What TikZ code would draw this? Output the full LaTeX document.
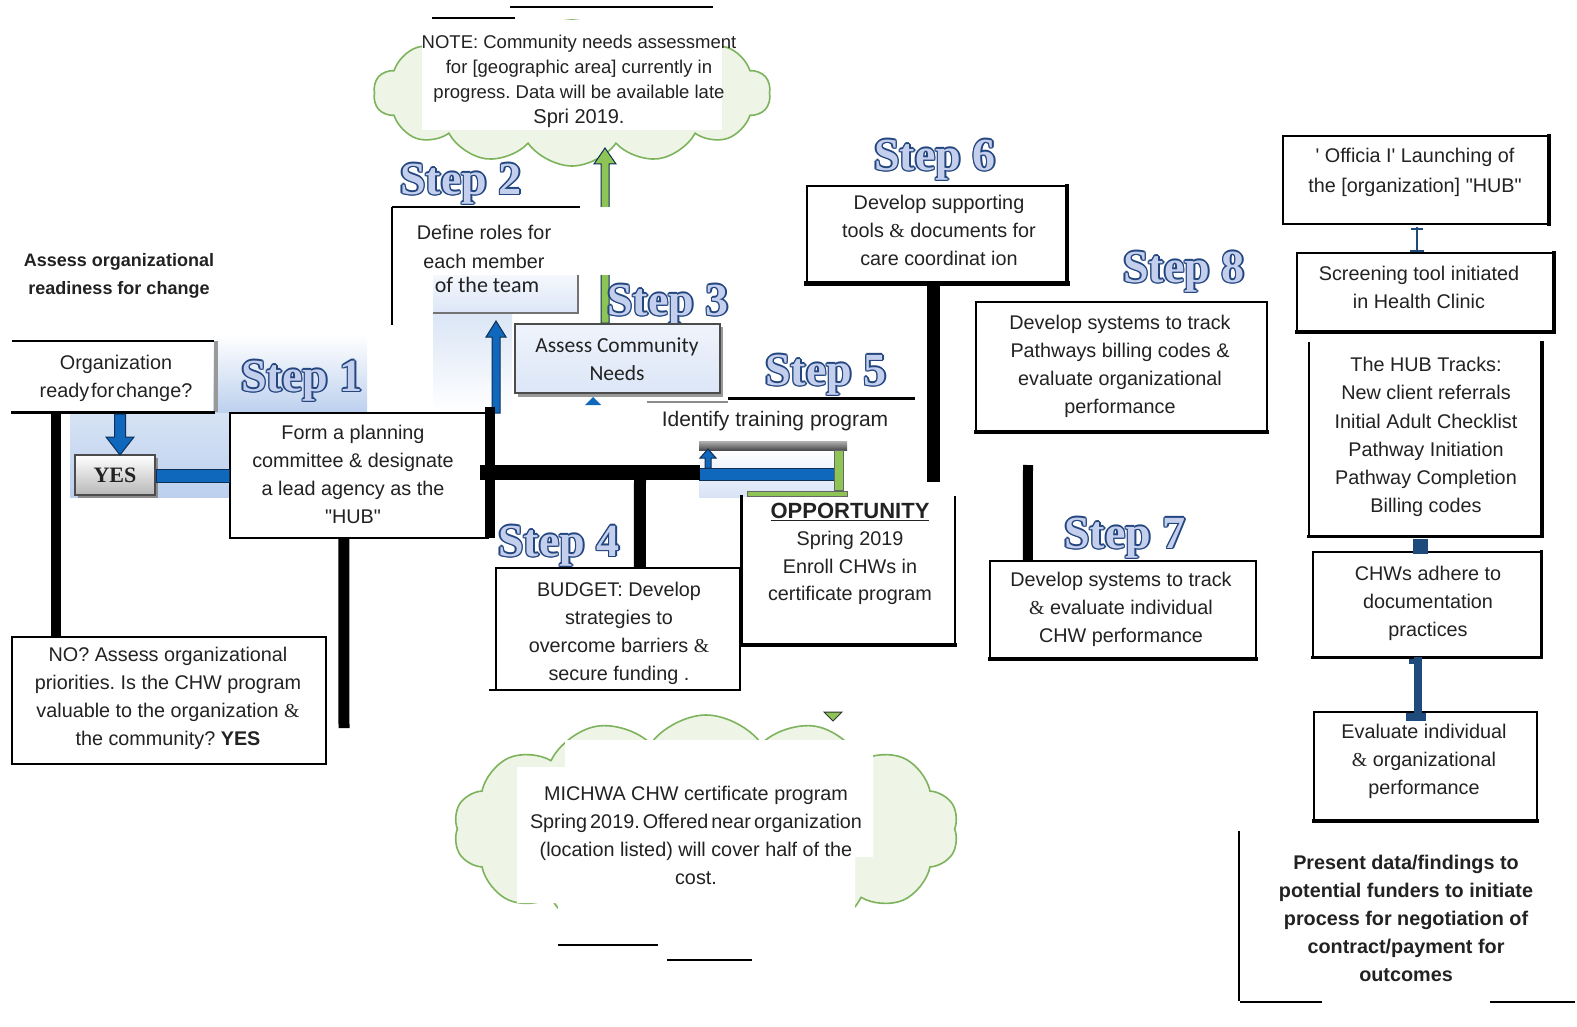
\documentclass[tikz,border=0pt]{standalone}
\usepackage{fontspec}
\usepackage{graphicx}
\setmainfont{Liberation Sans}
\newfontfamily\seriffam{Liberation Serif}
\newfontfamily\calfam{Carlito}
\newfontfamily\quotefam{Liberation Sans}
\usetikzlibrary{shapes.symbols,fit}

\definecolor{ink}{HTML}{222222}
\definecolor{stepdark}{HTML}{23467F}
\definecolor{steplight}{HTML}{C4CFEE}
\definecolor{barblue}{HTML}{1068BD}
\definecolor{arrowedge}{HTML}{0E2E55}
\definecolor{hubnavy}{HTML}{1E4A7C}
\definecolor{leafgreen}{HTML}{8DC455}
\definecolor{cloudline}{HTML}{7DB35C}
\definecolor{cloudfill}{HTML}{EEF5E6}
\definecolor{glowblue}{HTML}{BCD0EE}
\definecolor{needsfill}{HTML}{DCE6F7}

% outlined "Step n" lettering
\newcommand\stepword[1]{%
  \setbox0\hbox{#1}%
  \rlap{\kern-1.5pt\textcolor{stepdark}{\copy0}}%
  \rlap{\kern1.5pt\textcolor{stepdark}{\copy0}}%
  \rlap{\raise1.5pt\hbox{\textcolor{stepdark}{\copy0}}}%
  \rlap{\lower1.5pt\hbox{\textcolor{stepdark}{\copy0}}}%
  \rlap{\kern1.1pt\raise1.1pt\hbox{\textcolor{stepdark}{\copy0}}}%
  \rlap{\kern-1.1pt\raise1.1pt\hbox{\textcolor{stepdark}{\copy0}}}%
  \rlap{\kern1.1pt\lower1.1pt\hbox{\textcolor{stepdark}{\copy0}}}%
  \rlap{\kern-1.1pt\lower1.1pt\hbox{\textcolor{stepdark}{\copy0}}}%
  \textcolor{steplight}{\copy0}}

% serif ampersand used in several boxes
\newcommand\samp{{\seriffam\&}}
% straight quotation marks
\newcommand\dq{{\quotefam\char"22}}
\newcommand\sq{{\quotefam\char"27}}

% border of a fitted panel: node, top, right, bottom, left widths (0 = none)
\newcommand\edges[5]{%
  \ifdim#2pt>0pt \draw[line width=#2pt,line cap=rect] (#1.north west) -- (#1.north east);\fi
  \ifdim#3pt>0pt \draw[line width=#3pt,line cap=rect] (#1.north east) -- (#1.south east);\fi
  \ifdim#4pt>0pt \draw[line width=#4pt,line cap=rect] (#1.south west) -- (#1.south east);\fi
  \ifdim#5pt>0pt \draw[line width=#5pt,line cap=rect] (#1.north west) -- (#1.south west);\fi}

\frenchspacing
\begin{document}
\begin{tikzpicture}[x=1pt,y=-1pt,
  txt/.style={font=\fontsize{19.8}{28}\selectfont, text=ink, align=center, inner sep=0pt},
  boldtxt/.style={font=\fontsize{19.8}{28}\selectfont\bfseries, text=ink, align=center, inner sep=0pt},
  steplbl/.style={inner sep=0pt, font=\seriffam\bfseries\fontsize{46}{46}\selectfont},
  panel/.style={inner sep=0pt, fill=white},
  bar/.style={line width=#1, draw=black},
  bar/.default=10pt,
  cloudshape/.style={cloud, cloud puffs=14, cloud puff arc=110, cloud ignores aspect,
    draw=cloudline, fill=cloudfill, line width=1.6pt, inner sep=0pt},
  fatarrow/.style={fill=#1, draw=arrowedge, line width=1pt},
]
\useasboundingbox (0,0) rectangle (1577,1027);
\fill[white] (0,0) rectangle (1577,1027);

% ---------- note cloud (top) ----------
\node[cloudshape, minimum width=397pt, minimum height=146pt] (notecloud) at (572,93) {};
\fill[white] (422,20) rectangle (722,130);
\node[txt, font=\fontsize{18.5}{25}\selectfont] (notetext) at (579,81)
  {NOTE: Community needs assessment\\for [geographic area] currently in\\progress. Data will be available late\\{\fontsize{20}{25}\selectfont Spri 2019.}};
\coordinate (ruleA) at (432,18); \coordinate (ruleB) at (515,18);
\coordinate (ruleC) at (510,7);  \coordinate (ruleD) at (713,7);
\draw[line width=1.5pt] (ruleA) -- (ruleB);
\draw[line width=1.5pt] (ruleC) -- (ruleD);

% ---------- cost cloud (bottom) ----------
\node[cloudshape, minimum width=505pt, minimum height=228pt] (costcloud) at (706,829) {};
\fill[white] (565,740) -- (873,740) -- (873,857) -- (855,857) -- (855,945) -- (558,945)
  -- (558,903) -- (517,903) -- (517,767) -- (565,767) -- cycle;
\node[txt] (costtext) at (696,835)
  {MICHWA CHW certificate program\\Spring\kern3pt2019.\kern3ptOffered\kern3ptnear\kern3ptorganization\\(location listed) will cover half of the\\cost.};
\draw[fill=leafgreen, draw=black!80, line width=1pt] (824,712) -- (842,712) -- (833,721) -- cycle;
\coordinate (ruleE) at (558,945); \coordinate (ruleF) at (658,945);
\coordinate (ruleG) at (667,960); \coordinate (ruleH) at (752,960);
\draw[line width=1.5pt] (ruleE) -- (ruleF);
\draw[line width=1.5pt] (ruleG) -- (ruleH);

% ---------- soft blue backdrops ----------
\shade[top color=white, bottom color=glowblue] (213,335) rectangle (367,413);
\shade[top color=glowblue!60, bottom color=glowblue] (70,413) rectangle (230,497);
\shade[top color=glowblue!55, bottom color=white] (433,313) rectangle (512,412);
\shade[top color=white, bottom color=glowblue!60] (699,450) rectangle (834,497);

% ---------- green arrow up to the note ----------
\filldraw[fatarrow=leafgreen] (601,323) -- (601,164) -- (594,164) -- (605,148)
  -- (616,164) -- (609,164) -- (609,323) -- cycle;

% ---------- step 2 panel ----------
\node[panel, fit={(392,207) (615,275)}] (roles) {};
\draw[line width=2pt] (roles.north west) -- ++(188,0);
\draw[line width=2pt] (roles.north west) -- ++(0,118);
\node[txt, font=\fontsize{19.8}{29}\selectfont] (rolestext) at (484,247) {Define roles for\\each member};
\node[inner sep=0pt, fit={(433,275) (578,313)}, top color=white!70!needsfill, bottom color=needsfill] (team) {};
\draw[black!55, line width=2.5pt] (team.north east) -- (team.south east) -- (team.south west);
\node[inner sep=0pt, font=\calfam\fontsize{22}{24}\selectfont, text=ink] (teamtext) at (487,285) {of the team};

% ---------- step lettering ----------
\node[steplbl] (sone)   at (302,381) {\stepword{Step 1}};
\node[steplbl] (stwo)   at (461,184) {\stepword{Step 2}};
\node[steplbl] (sthree) at (668,305) {\stepword{Step 3}};
\node[steplbl] (sfour)  at (559,546) {\stepword{Step 4}};
\node[steplbl] (sfive)  at (826,375) {\stepword{Step 5}};
\node[steplbl] (ssix)   at (935,160) {\stepword{Step 6}};
\node[steplbl] (sseven) at (1125,538) {\stepword{Step 7}};
\node[steplbl] (seight) at (1184,272) {\stepword{Step 8}};

% ---------- step 3 box ----------
\fill[black!40] (518,327) rectangle (723,397);
\node[inner sep=0pt, fit={(515,324) (720,393)}, top color=white!55!needsfill, bottom color=needsfill,
  draw=black!70, line width=1.5pt] (needs) {};
\node[inner sep=0pt, align=center, font=\calfam\fontsize{21.5}{28}\selectfont, text=ink] (needstext) at (617,359)
  {Assess Community\\Needs};
\fill[barblue] (585,405) -- (601,405) -- (593,397) -- cycle;

% ---------- readiness question ----------
\node[boldtxt, font=\fontsize{18}{28}\selectfont\bfseries] (readiness) at (119,276)
  {Assess organizational\\readiness for change};
\node[panel, fit={(13,341) (213,412)}] (org) {};
\draw[black!40, line width=4pt] ([xshift=3pt]org.north east) -- ([xshift=3pt]org.south east);
\edges{org}{1.5}{0}{3}{0}
\node[txt] (orgtext) at (116,378) {Organization\\ready\kern2pt for\kern2pt change?};

\fill[black!45] (78,458) rectangle (158,498);
\node[inner sep=0pt, fit={(75,455) (155,495)}, top color=white, bottom color=black!28,
  draw=black!70, line width=2pt] (yes) {};
\node[inner sep=0pt, font=\seriffam\bfseries\fontsize{22}{22}\selectfont, text=ink] (yestext) at (yes) {YES};

% ---------- step 1 box ----------
\node[panel, fit={(230,413) (488,538)}] (form) {};
\edges{form}{1.5}{0}{2.5}{1.5}
\node[txt] (formtext) at (353,474)
  {Form a planning\\committee \& designate\\a lead agency as the\\\dq HUB\dq};

% ---------- NO box ----------
\node[panel, fit={(12,637) (326,764)}] (nobox) {};
\edges{nobox}{1.5}{2}{2.5}{1.5}
\node[txt] (notext) at (168,698)
  {NO? Assess organizational\\priorities. Is the CHW program\\valuable to the organization \samp\\the community? \textbf{YES}};

% ---------- step 4 box ----------
\node[panel, fit={(496,568) (740,690)}] (budget) {};
\edges{budget}{1.5}{2}{0}{1.5}
\draw[line width=2.5pt, line cap=rect] ([xshift=-6pt]budget.south west) -- (budget.south east);
\node[txt] (budgettext) at (619,633)
  {BUDGET: Develop\\strategies to\\overcome barriers \samp\\secure funding .};

% ---------- step 5 ----------
\node[inner sep=0pt, fit={(647,399) (915,440)}] (trainarea) {};
\draw[black!45, line width=2.5pt] ([yshift=-3pt]trainarea.north west) -- ++(81,0);
\draw[line width=3pt] ([xshift=81pt]trainarea.north west) -- (trainarea.north east);
\node[txt, font=\fontsize{21}{28}\selectfont] (training) at (775,421) {Identify training program};

% image strip beside the opportunity box
\shade[top color=black!30, bottom color=black!70] (699,441) rectangle (847,450);
\filldraw[fatarrow=barblue] (699,468) rectangle (834,480);
\filldraw[fatarrow=barblue] (705,468) -- (705,458) -- (700,458) -- (708,449) -- (716,458) -- (711,458) -- (711,468) -- cycle;
\filldraw[fill=leafgreen, draw=black!60, line width=.8pt] (834,450) rectangle (843,490);
\filldraw[fill=leafgreen, draw=black!60, line width=.8pt] (747,491) rectangle (847,496);

\node[panel, fit={(742,497) (955,645)}] (opp) {};
\edges{opp}{0}{2}{4}{3}
\node[txt, font=\fontsize{19.8}{27.5}\selectfont] (opptext) at (850,554)
  {{\fontsize{22}{27.5}\selectfont\bfseries\underline{OPPORTUNITY}}\\Spring 2019\\Enroll CHWs in\\certificate program};

% ---------- step 6 box ----------
\node[panel, fit={(807,186) (1067,283)}] (sixbox) {};
\edges{sixbox}{2.5}{3.5}{5}{2}
\node[txt] (sixtext) at (939,230)
  {Develop supporting\\tools \samp{} documents for\\care coordinat ion};

% ---------- step 8 box ----------
\node[panel, fit={(976,302) (1267,432)}] (eightbox) {};
\edges{eightbox}{2}{2.5}{3.5}{2}
\node[txt] (eighttext) at (1120,366)
  {Develop systems to track\\Pathways billing codes \&\\evaluate organizational\\performance};

% ---------- step 7 box ----------
\node[panel, fit={(990,561) (1256,659)}] (sevenbox) {};
\edges{sevenbox}{2}{2}{3.5}{2}
\node[txt] (seventext) at (1121,609)
  {Develop systems to track\\\samp{} evaluate individual\\CHW performance};

% ---------- hub column ----------
\node[panel, fit={(1283,136) (1549,224)}] (launch) {};
\edges{launch}{2}{4}{2.5}{1.5}
\node[txt, font=\fontsize{19.8}{30}\selectfont] (launchtext) at (1415,172)
  {\sq{} Officia I\sq{} Launching of\\the [organization] \dq HUB\dq};

\node[panel, fit={(1297,253) (1554,332)}] (screen) {};
\edges{screen}{2}{4}{4}{1.5}
\node[txt] (screentext) at (1419,287) {Screening tool initiated\\in Health Clinic};

\node[panel, fit={(1309,343) (1542,536)}] (tracks) {};
\edges{tracks}{0}{4}{3}{2}
\node[txt, font=\fontsize{19.8}{28.2}\selectfont] (trackstext) at (1426,437)
  {The HUB Tracks:\\New client referrals\\Initial Adult Checklist\\Pathway Initiation\\Pathway Completion\\Billing codes};

\node[panel, fit={(1313,552) (1541,657)}] (adhere) {};
\edges{adhere}{2}{3}{3}{2}
\node[txt] (adheretext) at (1428,603) {CHWs adhere to\\documentation\\practices};

\node[panel, fit={(1314,712) (1537,821)}] (evaluate) {};
\edges{evaluate}{2}{2.5}{4}{2}
\node[txt] (evaluatetext) at (1424,761) {Evaluate individual\\\samp{} organizational\\performance};

% column links
\coordinate (linkA) at (1417,227); \coordinate (linkB) at (1417,252);
\draw[hubnavy, line width=2.5pt] (linkA) -- (linkB);
\draw[hubnavy, line width=1.5pt] (1411,229) -- (1423,229);
\draw[hubnavy, line width=1.5pt] (1410,251) -- (1424,251);
\node[fill=hubnavy, minimum size=15pt, inner sep=0pt] (tracklink) at (1420,546) {};
\draw[hubnavy, line width=8pt] ([xshift=-9.5pt]adhere.south) -- ([xshift=-9.5pt,yshift=-4pt]adhere.south |- evaluate.north);
\fill[hubnavy] (1406,713) rectangle (1426,721);
\fill[hubnavy] (1409,659) rectangle (1414,664);

% funders note
\node[boldtxt] (funders) at (1406,918)
  {Present data/findings to\\potential funders to initiate\\process for negotiation of\\contract/payment for\\outcomes};
\coordinate (fundTop) at (1239,831); \coordinate (fundFoot) at (1239,1001);
\draw[line width=2pt] (fundTop) -- (fundFoot);
\draw[line width=1.5pt] (1240,1002) -- (1322,1002);
\draw[line width=1.5pt] (1490,1002) -- (1575,1002);

% ---------- blue connectors ----------
\filldraw[fatarrow=barblue] (114.5,414) -- (114.5,437) -- (106,437) -- (120,455)
  -- (134,437) -- (125.5,437) -- (125.5,414) -- cycle;
\filldraw[fatarrow=barblue] (yes.east |- 0,469) rectangle (form.west |- 0,482);
\filldraw[fatarrow=barblue] (492,413) -- (492,337) -- (486,337) -- (496,321)
  -- (506,337) -- (500,337) -- (500,413) -- cycle;

% ---------- heavy black connectors ----------
\draw[bar] ([xshift=43pt]org.south west) -- ([xshift=44pt]nobox.north west);
\coordinate (planend) at (344,728);
\draw[bar=11pt] ([xshift=114pt]form.south west) -- (planend);
\draw[bar] ([xshift=2pt,yshift=6pt]form.north east) -- ([xshift=2pt]form.south east);
\coordinate (hubwest) at (480,472); \coordinate (hubeast) at (700,472);
\draw[bar=15pt] (hubwest) -- (hubeast);
\draw[bar=12pt] (640,479) -- ([xshift=144pt]budget.north west);
\coordinate (sixend) at (933,482);
\draw[bar=13pt] ([xshift=-4pt]sixbox.south) -- (sixend);
\coordinate (sevenstart) at (1028,465);
\draw[bar] (sevenstart) -- ([xshift=38pt]sevenbox.north west);
\end{tikzpicture}
\end{document}
